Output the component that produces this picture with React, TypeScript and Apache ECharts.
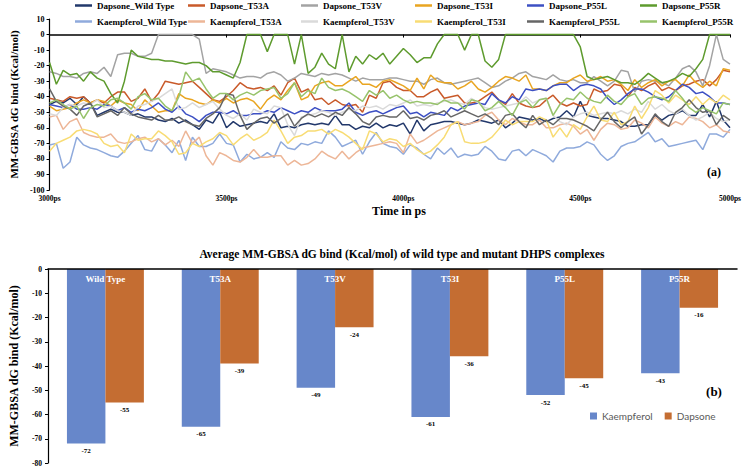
import React, { useEffect, useRef } from "react";
import * as echarts from "echarts";

// ---------- top chart: MM-GBSA dG bind over time ----------
const sampleIndex = Array.from({ length: 101 }, (_, i) => String(i));
const tickIndex = [0, 26, 52, 78, 100];
const tickText = ["3000ps", "3500ps", "4000ps", "4500ps", "5000ps"];

const dapsoneWT = [
  -45, -43, -44, -41, -45, -40, -44, -52, -50, -48, -50, -50, -52, -51, -53, -53, -55, -56, -54, -57, -55, -58, -61, -55, -57, -50,
  -60, -56, -59, -58, -57, -56, -57, -51, -60, -59, -60, -58, -57, -58, -57, -58, -52, -58, -58, -61, -59, -60, -57, -60, -58,
  -59, -57, -64, -55, -62, -58, -57, -56, -56, -57, -58, -57, -55, -56, -57, -55, -60, -57, -53, -54, -55, -54, -56, -54, -53,
  -49, -53, -43, -52, -53, -54, -54, -55, -56, -59, -59, -58, -58, -52, -55, -52, -51, -49, -52, -52, -45, -53, -43, -55, -60,
];
const dapsoneT53A = [
  -41, -42, -43, -40, -41, -40, -44, -42, -44, -40, -37, -37, -43, -41, -35, -43, -38, -30, -31, -32, -31, -30, -34, -38, -42, -43,
  -40, -36, -31, -34, -35, -34, -36, -33, -39, -31, -28, -37, -35, -42, -41, -45, -42, -45, -46, -45, -50, -39, -41, -31, -30,
  -34, -36, -36, -40, -40, -37, -35, -41, -40, -39, -44, -44, -43, -40, -37, -42, -45, -38, -44, -46, -47, -46, -42, -39, -44,
  -46, -44, -46, -45, -35, -37, -36, -32, -33, -40, -34, -36, -33, -31, -36, -34, -36, -33, -32, -30, -29, -33, -29, -23, -24,
];
const dapsoneT53V = [
  -24, -25, -27, -27, -28, -25, -24, -25, -21, -27, -13, -12, -12, -14, -14, -12, 0, 0, 0, 0, 0, 0, -3, -25, -22, -23,
  -24, -26, -28, -27, -27, -28, -25, -24, -26, -30, -28, -25, -26, -27, -25, -26, -25, -26, -28, -30, -28, -29, -29, -29, -28,
  -28, -29, -30, -30, -32, -29, -28, -31, -32, -31, -30, -29, -28, -31, -34, -33, -30, -28, -25, -24, -27, -28, -29, -26, -29,
  -30, -29, -31, -31, -27, -30, -33, -30, -23, -24, -37, -30, -29, -30, -31, -33, -28, -22, -20, -24, -33, -20, 0, -16, -19,
];
const dapsoneT53I = [
  -46, -49, -48, -47, -44, -42, -44, -42, -43, -46, -42, -44, -45, -49, -42, -46, -50, -49, -49, -38, -41, -42, -44, -45, -42, -44,
  -41, -44, -42, -41, -43, -48, -42, -39, -42, -36, -31, -42, -40, -33, -31, -30, -33, -33, -30, -27, -32, -32, -34, -30, -29,
  -31, -33, -36, -28, -35, -26, -30, -31, -31, -35, -33, -30, -35, -37, -34, -30, -27, -28, -30, -26, -35, -35, -36, -33, -31,
  -31, -28, -26, -30, -29, -27, -30, -29, -32, -36, -29, -34, -31, -29, -33, -30, -29, -33, -26, -31, -34, -30, -33, -22, -23,
];
const dapsoneP55L = [
  -45, -46, -47, -45, -48, -48, -47, -48, -45, -46, -49, -47, -50, -48, -49, -47, -44, -48, -50, -46, -51, -53, -56, -52, -50, -50,
  -51, -49, -52, -52, -51, -51, -49, -50, -47, -49, -51, -49, -50, -47, -49, -49, -49, -48, -44, -50, -52, -50, -49, -51, -49,
  -47, -46, -51, -50, -53, -50, -51, -52, -47, -49, -46, -45, -44, -45, -38, -42, -44, -40, -42, -35, -36, -35, -36, -33, -32,
  -32, -36, -33, -32, -33, -35, -41, -45, -42, -38, -35, -35, -37, -40, -42, -40, -36, -32, -34, -38, -37, -40, -44, -44, -45,
];
const dapsoneP55R = [
  -18, -32, -23, -26, -25, -30, -24, -28, -30, -38, -44, -30, -10, -14, -15, -16, -16, -17, -17, -18, -19, -18, -18, -20, -24, -24,
  -26, -28, -18, 0, 0, 0, -11, 0, 0, 0, -19, 0, -25, -21, -12, -19, -22, 0, -24, -14, -19, -13, -16, -12, -19,
  -14, -9, -13, -18, -15, -15, -6, 0, 0, 0, -10, 0, 0, -17, -21, -16, 0, 0, 0, 0, 0, 0, 0, 0, 0,
  0, 0, -8, -27, -29, -28, -27, -29, -31, -31, -32, -29, -25, -28, -31, -30, -28, -25, -27, -22, -16, 0, 0, 0, 0,
];
const kaempferolWT = [
  -71, -70, -86, -82, -66, -71, -73, -74, -76, -78, -79, -75, -70, -65, -74, -75, -67, -71, -76, -68, -81, -66, -72, -72, -70, -64,
  -70, -71, -82, -77, -80, -79, -76, -79, -69, -73, -74, -70, -71, -69, -70, -62, -66, -72, -70, -68, -77, -69, -63, -70, -72,
  -73, -77, -71, -73, -77, -80, -73, -77, -73, -79, -77, -78, -77, -72, -75, -80, -81, -75, -74, -78, -74, -76, -78, -82, -75,
  -73, -73, -72, -69, -71, -77, -81, -78, -72, -70, -69, -66, -63, -69, -67, -72, -71, -70, -69, -68, -74, -64, -64, -66, -61,
];
const kaempferolT53A = [
  -53, -52, -61, -56, -54, -63, -65, -66, -66, -64, -69, -70, -69, -67, -66, -69, -67, -71, -68, -72, -62, -70, -66, -78, -84, -76,
  -78, -81, -82, -79, -74, -79, -79, -78, -78, -84, -81, -84, -83, -80, -75, -78, -80, -75, -80, -76, -73, -72, -71, -70, -69,
  -70, -76, -64, -70, -68, -65, -62, -60, -58, -56, -58, -57, -56, -52, -50, -55, -58, -54, -56, -58, -58, -55, -60, -60, -58,
  -57, -59, -64, -61, -68, -61, -57, -58, -61, -60, -55, -57, -60, -53, -57, -59, -56, -58, -53, -54, -56, -60, -58, -62, -63,
];
const kaempferolT53V = [
  -51, -52, -47, -45, -46, -44, -45, -42, -47, -46, -49, -50, -52, -46, -45, -43, -41, -38, -35, -48, -47, -44, -47, -45, -43, -48,
  -52, -54, -51, -55, -48, -50, -51, -46, -47, -58, -65, -53, -52, -51, -49, -50, -52, -50, -48, -49, -46, -47, -46, -48, -45,
  -46, -44, -42, -46, -45, -46, -44, -43, -42, -44, -45, -41, -44, -47, -48, -47, -46, -45, -44, -40, -44, -42, -41, -52, -56,
  -58, -53, -51, -50, -52, -51, -50, -51, -49, -51, -48, -50, -43, -48, -45, -49, -51, -48, -52, -55, -53, -50, -54, -56, -55,
];
const kaempferolT53I = [
  -75, -70, -68, -66, -62, -61, -62, -64, -70, -72, -71, -76, -64, -68, -67, -67, -62, -65, -69, -77, -76, -70, -72, -69, -67, -63,
  -65, -71, -67, -64, -68, -66, -63, -55, -62, -70, -66, -65, -62, -62, -61, -64, -61, -63, -66, -70, -74, -62, -64, -69, -67,
  -68, -72, -70, -74, -77, -75, -71, -66, -58, -56, -69, -70, -70, -69, -66, -61, -55, -58, -56, -56, -56, -53, -55, -66, -60,
  -66, -58, -61, -53, -46, -55, -56, -50, -58, -56, -46, -54, -47, -36, -39, -44, -39, -42, -45, -40, -45, -41, -44, -39, -42,
];
const kaempferolP55L = [
  -35, -43, -46, -48, -52, -46, -44, -53, -51, -49, -52, -47, -51, -53, -54, -55, -52, -55, -55, -53, -56, -58, -59, -54, -51, -47,
  -38, -39, -52, -61, -57, -54, -53, -57, -54, -51, -59, -54, -51, -53, -51, -53, -50, -52, -47, -51, -56, -58, -53, -52, -53,
  -53, -49, -54, -53, -55, -52, -51, -49, -53, -51, -49, -51, -53, -51, -54, -58, -52, -51, -56, -60, -52, -58, -55, -58, -54,
  -54, -55, -57, -59, -62, -55, -50, -56, -60, -56, -53, -64, -58, -51, -56, -59, -50, -47, -42, -47, -50, -49, -58, -52, -55,
];
const kaempferolP55R = [
  -44, -42, -45, -48, -46, -54, -47, -45, -46, -42, -41, -44, -48, -40, -38, -42, -41, -46, -49, -40, -24, -30, -28, -35, -41, -38,
  -38, -42, -39, -37, -39, -36, -35, -34, -41, -38, -31, -40, -36, -38, -28, -34, -36, -35, -37, -40, -43, -36, -39, -36, -41,
  -39, -42, -44, -43, -44, -44, -45, -42, -44, -44, -48, -42, -43, -49, -47, -43, -47, -52, -44, -42, -47, -42, -41, -52, -45,
  -41, -42, -37, -41, -43, -44, -39, -43, -45, -40, -38, -45, -41, -40, -41, -43, -36, -41, -47, -50, -47, -49, -51, -44, -45,
];

const lineNames = [
  "Dapsone_Wild Type", "Dapsone_T53A", "Dapsone_T53V", "Dapsone_T53I", "Dapsone_P55L", "Dapsone_P55R",
  "Kaempferol_Wild Type", "Kaempferol_T53A", "Kaempferol_T53V", "Kaempferol_T53I", "Kaempferol_P55L", "Kaempferol_P55R",
];
const lineData = [
  dapsoneWT, dapsoneT53A, dapsoneT53V, dapsoneT53I, dapsoneP55L, dapsoneP55R,
  kaempferolWT, kaempferolT53A, kaempferolT53V, kaempferolT53I, kaempferolP55L, kaempferolP55R,
];
const lineColors = [
  "#22386B", "#C95A2A", "#A3A3A3", "#E9A521", "#3D50C3", "#5E9B2E",
  "#8FAADC", "#EDB697", "#DADADA", "#F8DC74", "#666666", "#97C36B",
];

// ---------- bottom chart: averages ----------
const mutants = ["Wild Type", "T53A", "T53V", "T53I", "P55L", "P55R"];
const kaempferolAvg = [-72, -65, -49, -61, -52, -43];
const dapsoneAvg = [-55, -39, -24, -36, -45, -16];

const SERIF = "'Liberation Serif', 'Times New Roman', serif";

export default function App() {
  const ref = useRef<HTMLDivElement>(null);
  useEffect(() => {
    if (!ref.current) return;
    const chart = echarts.init(ref.current, undefined, { renderer: "svg" });

    const legendCols = [75, 188, 301, 415, 527, 640];
    const legends: any[] = lineNames.map((name, i) => ({
      data: [{ name, icon: "rect" }],
      left: legendCols[i % 6],
      top: i < 6 ? 1 : 17,
      padding: 0,
      itemWidth: 17,
      itemHeight: 2.5,
      selectedMode: false,
      textStyle: { fontFamily: SERIF, fontWeight: "bold", fontSize: 9, color: "#000" },
    }));
    legends.push({
      data: ["Kaempferol", "Dapsone"],
      left: 590,
      top: 411,
      padding: 0,
      itemWidth: 7,
      itemHeight: 7,
      itemGap: 12,
      icon: "rect",
      selectedMode: false,
      textStyle: { fontFamily: "Lato, 'Open Sans', sans-serif", fontSize: 10, color: "#595959" },
    });

    const axisLabelStyle = { fontFamily: SERIF, fontWeight: "bold" as const, fontSize: 8, color: "#000" };

    chart.setOption({
      animation: false,
      legend: legends,
      grid: [
        { left: 30, top: 19, width: 700, height: 171 },
        { left: 43, top: 269, width: 694, height: 194 },
      ],
      xAxis: [
        {
          gridIndex: 0,
          type: "category",
          data: sampleIndex,
          boundaryGap: false,
          axisLine: { lineStyle: { color: "#000", width: 1.5 } },
          axisTick: { show: true, length: 3, interval: (i: number) => tickIndex.includes(i), lineStyle: { color: "#000" } },
          axisLabel: {
            ...axisLabelStyle,
            fontSize: 7.5,
            margin: 4,
            interval: (i: number) => tickIndex.includes(i),
            formatter: (_v: string, i: number) => {
              const k = tickIndex.indexOf(i);
              return k >= 0 ? tickText[k] : "";
            },
          },
          splitLine: { show: false },
        },
        {
          gridIndex: 1,
          type: "category",
          data: mutants,
          position: "top",
          axisLine: { onZero: false, lineStyle: { color: "#000", width: 1.5 } },
          axisTick: { show: false },
          axisLabel: {
            inside: true,
            margin: 5,
            fontFamily: SERIF,
            fontWeight: "bold",
            fontSize: 9,
            color: "#fff",
          },
          z: 10,
        },
      ],
      yAxis: [
        {
          gridIndex: 0,
          type: "value",
          min: -100,
          max: 10,
          interval: 10,
          name: "MM-GBSA dG bind (Kcal/mol)",
          nameLocation: "middle",
          nameRotate: 90,
          nameGap: 23,
          nameTextStyle: { fontFamily: SERIF, fontWeight: "bold", fontSize: 11, color: "#000" },
          axisLine: { show: true, lineStyle: { color: "#000", width: 1.2 } },
          axisTick: { show: true, length: 3, lineStyle: { color: "#000" } },
          axisLabel: { ...axisLabelStyle, margin: 5 },
          splitLine: { show: false },
        },
        {
          gridIndex: 1,
          type: "value",
          min: -80,
          max: 0,
          interval: 10,
          name: "MM-GBSA dG bind (Kcal/mol)",
          nameLocation: "middle",
          nameRotate: 90,
          nameGap: 28,
          nameTextStyle: { fontFamily: SERIF, fontWeight: "bold", fontSize: 12, color: "#000" },
          axisLine: { show: true, lineStyle: { color: "#000", width: 1.2 } },
          axisTick: { show: true, length: 3, lineStyle: { color: "#000" } },
          axisLabel: { ...axisLabelStyle, fontSize: 7.5, margin: 6 },
          splitLine: { show: false },
        },
      ],
      series: [
        ...lineNames.map((name, i) => ({
          name,
          type: "line",
          xAxisIndex: 0,
          yAxisIndex: 0,
          data: lineData[i],
          symbol: "none",
          color: lineColors[i],
          lineStyle: { width: 1.5, color: lineColors[i] },
        })),
        {
          name: "Kaempferol",
          type: "bar",
          xAxisIndex: 1,
          yAxisIndex: 1,
          data: kaempferolAvg,
          color: "#6787CA",
          barGap: "0%",
          barCategoryGap: "33%",
          label: {
            show: true,
            position: "bottom",
            distance: 4,
            fontFamily: SERIF,
            fontWeight: "bold",
            fontSize: 7,
            color: "#000",
          },
        },
        {
          name: "Dapsone",
          type: "bar",
          xAxisIndex: 1,
          yAxisIndex: 1,
          data: dapsoneAvg,
          color: "#C46D32",
          barGap: "0%",
          barCategoryGap: "33%",
          label: {
            show: true,
            position: "bottom",
            distance: 4,
            fontFamily: SERIF,
            fontWeight: "bold",
            fontSize: 7,
            color: "#000",
          },
        },
      ],
      graphic: [
        {
          type: "text",
          x: 399,
          y: 211,
          style: {
            text: "Time in ps",
            fontFamily: SERIF,
            fontWeight: "bold",
            fontSize: 12,
            fill: "#000",
            align: "center",
            verticalAlign: "middle",
          },
        },
        {
          type: "text",
          x: 714,
          y: 172,
          style: {
            text: "(a)",
            fontFamily: SERIF,
            fontWeight: "bold",
            fontSize: 12,
            fill: "#000",
            align: "center",
            verticalAlign: "middle",
          },
        },
        {
          type: "text",
          x: 714,
          y: 391,
          style: {
            text: "(b)",
            fontFamily: SERIF,
            fontWeight: "bold",
            fontSize: 13,
            fill: "#000",
            align: "center",
            verticalAlign: "middle",
          },
        },
        {
          type: "text",
          x: 402,
          y: 254,
          style: {
            text: "Average MM-GBSA dG bind (Kcal/mol) of wild type and mutant DHPS complexes",
            fontFamily: SERIF,
            fontWeight: "bold",
            fontSize: 11.5,
            fill: "#000",
            align: "center",
            verticalAlign: "middle",
          },
        },
      ],
    });
    return () => chart.dispose();
  }, []);
  return (
    <div
      ref={ref}
      style={{ position: "fixed", left: 0, top: 0, width: 745, height: 467, background: "#fff" }}
    />
  );
}
